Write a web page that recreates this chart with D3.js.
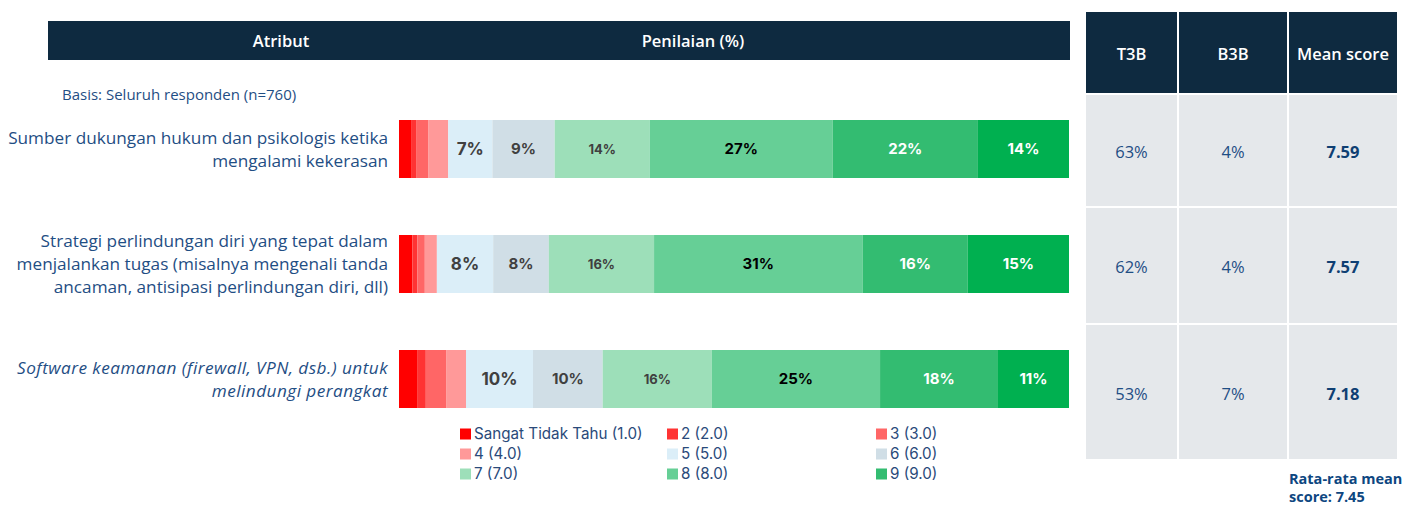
<!DOCTYPE html>
<html>
<head>
<meta charset="utf-8">
<script src="https://cdn.jsdelivr.net/npm/d3@7"></script>
<style>
  body { margin: 0; background: #fff; }
  svg { display: block; }
</style>
</head>
<body>
<div id="app"></div>
<script>
// --- data ---
const attributes = [
  ["Sumber dukungan hukum dan psikologis ketika", "mengalami kekerasan"],
  ["Strategi perlindungan diri yang tepat dalam", "menjalankan tugas (misalnya mengenali tanda", "ancaman, antisipasi perlindungan diri, dll)"],
  ["Software keamanan (firewall, VPN, dsb.) untuk", "melindungi perangkat"]
];
const italicRows = [false, false, true];

const scoreKeys = ["s1", "s2", "s3", "s4", "s5", "s6", "s7", "s8", "s9", "s10"];
const legendLabels = ["Sangat Tidak Tahu (1.0)", "2 (2.0)", "3 (3.0)", "4 (4.0)", "5 (5.0)", "6 (6.0)", "7 (7.0)", "8 (8.0)", "9 (9.0)"];

// percent per score, one array per attribute
const row1 = [1.8, 0.75, 1.8, 3.0, 6.6, 9.3, 14.2, 27.3, 21.7, 13.6];
const row2 = [2.0, 0.75, 1.1, 1.8, 8.4, 8.3, 15.7, 31.1, 15.7, 15.1];
const row3 = [2.7, 1.3, 3.1, 2.9, 10.0, 10.4, 16.3, 25.1, 17.6, 10.6];

const t3b = ["63%", "62%", "53%"];
const b3b = ["4%", "4%", "7%"];
const meanScore = ["7.59", "7.57", "7.18"];
const tableHeads = ["T3B", "B3B", "Mean score"];
const avgMean = "7.45";

// --- styles ---
const colors = ["#ff0000", "#ff3333", "#ff6666", "#ff9999", "#dbeef8", "#d0dee6", "#9ddfb9", "#66cf96", "#33bc71", "#00b050"];
const labelColor = ["#404040", "#404040", "#404040", "#404040", "#404040", "#404040", "#404040", "#000000", "#ffffff", "#ffffff"];
const labelSize = [13, 13, 13, 13, 17, 15, 13, 15, 15, 15];
const navy = "#0e2a40";
const blue = "#1f4e84";

const W = 1420, H = 505;
const svg = d3.select("#app").append("svg").attr("width", W).attr("height", H)
  .style("font-family", "'Open Sans', sans-serif");

const rows = attributes.map((a, i) => {
  const vals = [row1, row2, row3][i];
  const o = { name: i };
  scoreKeys.forEach((k, j) => o[k] = vals[j]);
  return o;
});

const stack = d3.stack().keys(scoreKeys).offset(d3.stackOffsetExpand);
const series = stack(rows);

const x = d3.scaleLinear().domain([0, 1]).range([399, 1069]);
const y = d3.scaleBand().domain(d3.range(attributes.length)).range([120, 408])
  .paddingInner(57 / 115).paddingOuter(0);

// header bar
const head = svg.append("g");
head.append("rect").attr("x", 48).attr("y", 21).attr("width", 1022).attr("height", 39).attr("fill", navy);
head.append("text").attr("x", 281).attr("y", 41).attr("dy", "0.35em").attr("text-anchor", "middle")
  .attr("fill", "#fff").attr("font-size", 16.5).attr("font-weight", 600).text("Atribut");
head.append("text").attr("x", 693).attr("y", 41).attr("dy", "0.35em").attr("text-anchor", "middle")
  .attr("fill", "#fff").attr("font-size", 16.5).attr("font-weight", 600).text("Penilaian (%)");

svg.append("text").attr("x", 62).attr("y", 95).attr("dy", "0.35em")
  .attr("fill", blue).attr("font-size", 15).text("Basis: Seluruh responden (n=760)");

// row labels
const lab = svg.append("g");
attributes.forEach((lines, i) => {
  const cy = y(i) + y.bandwidth() / 2;
  const lh = 23;
  const t = lab.append("text").attr("text-anchor", "end").attr("fill", blue)
    .attr("font-size", 17.2).attr("font-style", italicRows[i] ? "italic" : "normal")
    .attr("letter-spacing", italicRows[i] ? 0.45 : 0);
  lines.forEach((ln, k) => {
    t.append("tspan").attr("x", 388)
      .attr("y", cy + (k - (lines.length - 1) / 2) * lh)
      .attr("dy", "0.35em").text(ln);
  });
});

// bars
const bars = svg.append("g");
series.forEach((s, j) => {
  const g = bars.append("g").attr("fill", colors[j]);
  g.selectAll("rect").data(s).join("rect")
    .attr("x", d => x(d[0]))
    .attr("y", (d, i) => y(i))
    .attr("width", d => x(d[1]) - x(d[0]))
    .attr("height", y.bandwidth());
  g.selectAll("text").data(s.filter((d, i) => rows[i][scoreKeys[j]] >= 5))
    .join("text")
    .attr("x", d => (x(d[0]) + x(d[1])) / 2)
    .attr("y", d => y(rows.indexOf(d.data)) + y.bandwidth() / 2)
    .attr("dy", "0.36em")
    .attr("text-anchor", "middle")
    .attr("fill", labelColor[j])
    .attr("font-family", "Inter, sans-serif")
    .attr("font-weight", 700)
    .attr("font-size", labelSize[j])
    .text(d => Math.round(d.data[scoreKeys[j]]) + "%");
});

// legend
const leg = svg.append("g").attr("font-family", "Inter, sans-serif");
const legCols = [460, 667, 876];
const legRows = [434, 454, 474];
legendLabels.forEach((l, i) => {
  const gx = legCols[i % 3], gy = legRows[Math.floor(i / 3)];
  leg.append("rect").attr("x", gx).attr("y", gy - 5.5).attr("width", 11).attr("height", 11).attr("fill", colors[i]);
  leg.append("text").attr("x", gx + 14).attr("y", gy).attr("dy", "0.35em")
    .attr("fill", "#2a4a7a").attr("font-size", 15.2).text(l);
});

// right table
const tab = svg.append("g");
const colEdges = [1086, 1178, 1288, 1397];
const rowEdges = [12, 94, 207, 324, 459];
const gap = 2;
tableHeads.forEach((h, c) => {
  const x0 = colEdges[c] + (c ? gap / 2 : 0), x1 = colEdges[c + 1] - (c < 2 ? gap / 2 : 0);
  tab.append("rect").attr("x", x0).attr("y", rowEdges[0]).attr("width", x1 - x0)
    .attr("height", rowEdges[1] - rowEdges[0] - gap / 2).attr("fill", navy);
  tab.append("text").attr("x", (x0 + x1) / 2).attr("y", (rowEdges[0] + rowEdges[1]) / 2 + 1)
    .attr("dy", "0.35em").attr("text-anchor", "middle").attr("fill", "#fff")
    .attr("font-size", 16.5).attr("font-weight", 600).text(h);
  const vals = [t3b, b3b, meanScore][c];
  vals.forEach((v, r) => {
    const y0 = rowEdges[r + 1] + gap / 2, y1 = rowEdges[r + 2] - (r < 2 ? gap / 2 : 0);
    tab.append("rect").attr("x", x0).attr("y", y0).attr("width", x1 - x0).attr("height", y1 - y0).attr("fill", "#e5e8eb");
    tab.append("text").attr("x", (x0 + x1) / 2).attr("y", (y0 + y1) / 2 + 2)
      .attr("dy", "0.35em").attr("text-anchor", "middle").attr("fill", c === 2 ? "#0f3f73" : blue)
      .attr("font-size", 16.5).attr("font-weight", c === 2 ? 700 : 400).text(v);
  });
});

const foot = tab.append("text").attr("fill", "#0d4680").attr("font-size", 14.5).attr("font-weight", 700);
foot.append("tspan").attr("x", 1289).attr("y", 484).text("Rata-rata mean");
foot.append("tspan").attr("x", 1289).attr("y", 502).text("score: " + avgMean);
</script>
</body>
</html>
